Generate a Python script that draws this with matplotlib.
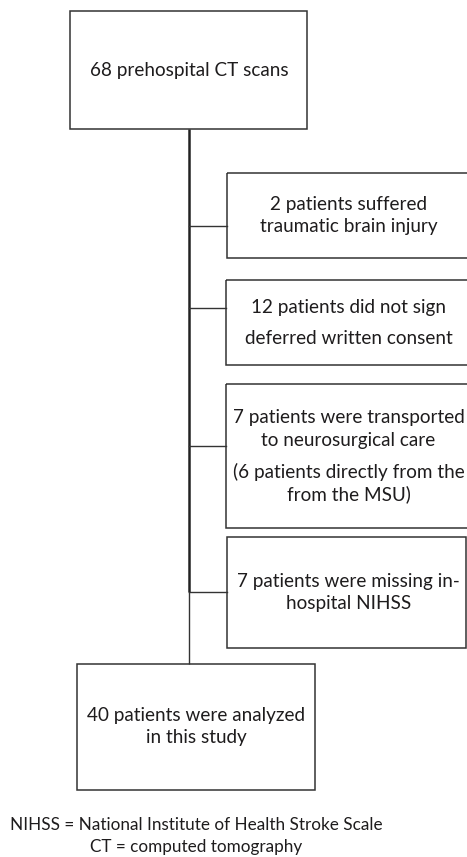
import matplotlib
matplotlib.use("Agg")
import matplotlib.pyplot as plt
from matplotlib.patches import Rectangle

# ---- content ----
top_text = "68 prehospital CT scans"
exclusion_texts = [
    ["2 patients suffered", "traumatic brain injury"],
    ["12 patients did not sign", "deferred written consent"],
    ["7 patients were transported", "to neurosurgical care", "(6 patients directly from the", "from the MSU)"],
    ["7 patients were missing in-", "hospital NIHSS"],
]
bottom_text = ["40 patients were analyzed", "in this study"]
footnotes = ["NIHSS = National Institute of Health Stroke Scale", "CT = computed tomography"]

# ---- layout (pixels) ----
W, H = 467, 857
FONT = "Lato"
FS = 13.6
FS_NOTE = 12.3
EC = "#333333"
TC = "#1e1c1d"

fig = plt.figure(figsize=(W / 100, H / 100), dpi=100)
ax = fig.add_axes([0, 0, 1, 1])
ax.set_xlim(0, W)
ax.set_ylim(H, 0)
ax.axis("off")

def box(x0, y0, x1, y1):
    ax.add_patch(Rectangle((x0, y0), x1 - x0, y1 - y0, fill=False, ec=EC, lw=1.1))

def txt(x, y, s, fs=FS):
    ax.text(x, y, s, ha="center", va="center", fontsize=fs, family=FONT, color=TC)

# top box
box(70, 11, 307, 129)
txt(189, 70, top_text)

# trunk
trunk_x = 189
ax.plot([trunk_x, trunk_x], [129, 592], color="#222222", lw=1.8, solid_capstyle="butt")
ax.plot([trunk_x, trunk_x], [592, 664], color="#333333", lw=1.0, solid_capstyle="butt")

# exclusion boxes
ex_boxes = [(227, 173, 475, 258), (226, 280, 475, 365), (226, 384, 475, 528), (227, 537, 466, 648)]
connector_y = [226, 308, 446, 592]
line_y = [[204, 226], [307, 338], [417, 440, 472, 494], [581, 604]]
for (x0, y0, x1, y1), cy, lines, ys in zip(ex_boxes, connector_y, exclusion_texts, line_y):
    box(x0, y0, x1, y1)
    ax.plot([trunk_x, x0], [cy, cy], color=EC, lw=1.0)
    for s, y in zip(lines, ys):
        txt(348.5, y, s)

# bottom box
box(77, 664, 315, 790)
for s, y in zip(bottom_text, [716, 738]):
    txt(196, y, s)

# footnotes
txt(196, 825, footnotes[0], FS_NOTE)
txt(196, 847, footnotes[1], FS_NOTE)

fig.savefig("out.png", dpi=100)
